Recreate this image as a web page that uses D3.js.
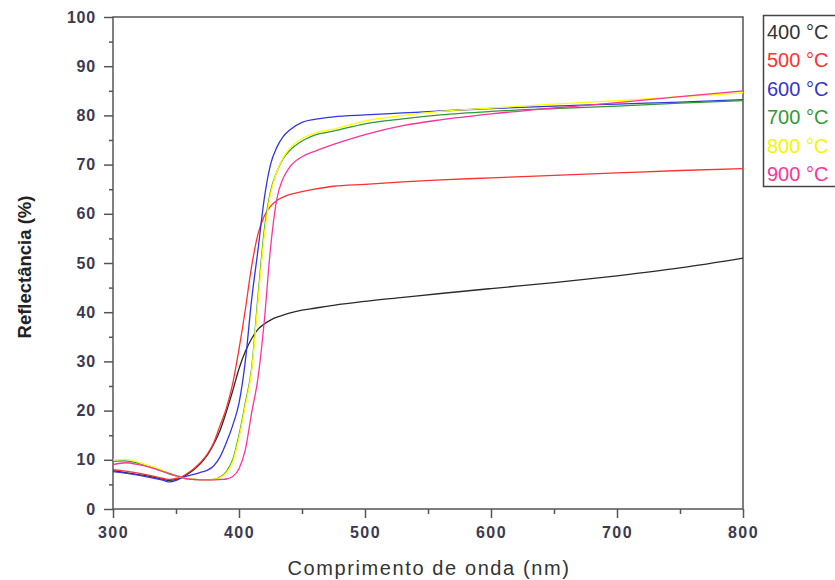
<!DOCTYPE html>
<html>
<head>
<meta charset="utf-8">
<script src="https://cdn.jsdelivr.net/npm/d3@7"></script>
<style>
  body { margin: 0; background: #fff; }
  svg { display: block; font-family: "Liberation Sans", Arial, sans-serif; }
</style>
</head>
<body>
<div id="chart"></div>
<script>
// wavelength (nm) shared by every series
const wavelengths = [300, 310, 320, 330, 340, 345, 350, 355, 360, 365, 370, 375, 380, 385, 390, 395, 400, 405, 410, 415, 420, 425, 430, 435, 440, 450, 460, 475, 500, 530, 560, 600, 650, 700, 750, 800];

// reflectance (%)
const r400 = [7.8, 7.4, 7.0, 6.6, 6.0, 5.8, 6.0, 6.4, 7.2, 8.2, 9.4, 11.0, 13.2, 16.0, 19.8, 24.0, 28.5, 32.0, 34.6, 36.5, 37.6, 38.4, 39.0, 39.4, 39.8, 40.4, 40.8, 41.4, 42.2, 43.0, 43.8, 44.8, 46.0, 47.4, 49.0, 51.0];
const r500 = [8.0, 7.7, 7.3, 6.8, 6.2, 6.0, 6.2, 6.6, 7.4, 8.4, 9.6, 11.2, 13.5, 17.0, 20.5, 25.5, 32.5, 40.5, 49.3, 55.8, 59.5, 61.5, 62.7, 63.4, 63.9, 64.5, 65.0, 65.6, 66.0, 66.5, 66.9, 67.3, 67.8, 68.3, 68.8, 69.2];
const r600 = [7.6, 7.3, 6.9, 6.4, 5.8, 5.5, 5.8, 6.4, 6.8, 7.1, 7.5, 7.9, 8.8, 10.6, 13.5, 17.0, 21.5, 30.0, 42.5, 52.5, 63.0, 70.0, 73.5, 75.7, 77.0, 78.6, 79.2, 79.7, 80.1, 80.5, 80.9, 81.4, 81.9, 82.3, 82.7, 83.2];
const r700 = [9.7, 9.8, 9.3, 8.6, 7.6, 7.1, 6.7, 6.3, 6.1, 6.0, 5.9, 5.9, 6.0, 6.5, 7.6, 10.0, 15.0, 21.5, 28.5, 43.0, 56.5, 64.5, 68.5, 71.2, 72.8, 74.8, 76.0, 76.8, 78.3, 79.3, 80.1, 80.8, 81.4, 81.9, 82.5, 83.0];
const r800 = [10.0, 10.1, 9.5, 8.7, 7.8, 7.3, 6.8, 6.4, 6.1, 6.0, 5.9, 5.9, 6.0, 6.4, 7.4, 9.6, 14.5, 21.0, 28.0, 42.0, 55.5, 64.0, 68.5, 71.4, 73.2, 75.3, 76.4, 77.2, 78.9, 80.0, 80.8, 81.5, 82.3, 83.0, 83.8, 84.6];
const r900 = [9.0, 9.4, 9.0, 8.4, 7.6, 7.2, 6.8, 6.4, 6.1, 6.0, 5.9, 5.9, 5.9, 6.0, 6.1, 6.6, 8.2, 12.0, 19.5, 26.5, 38.0, 53.0, 63.0, 67.2, 69.4, 71.6, 72.7, 74.1, 76.1, 77.9, 79.1, 80.3, 81.5, 82.6, 83.8, 85.0];

const seriesNames = ["400 °C", "500 °C", "600 °C", "700 °C", "800 °C", "900 °C"];
const seriesValues = [r400, r500, r600, r700, r800, r900];
const seriesColors = ["#2a2a2a", "#ff3030", "#3535e0", "#2f9a2f", "#ffff00", "#ff3399"];
const legendColors = ["#333333", "#ff3030", "#3535c8", "#339933", "#f5f500", "#ff3399"];

const xTicks = [300, 400, 500, 600, 700, 800];
const yTicks = [0, 10, 20, 30, 40, 50, 60, 70, 80, 90, 100];

const width = 835, height = 580;
const margin = { left: 113, right: 92, top: 17, bottom: 71 };

const svg = d3.select("#chart").append("svg")
    .attr("width", width)
    .attr("height", height);

const x = d3.scaleLinear().domain([300, 800]).range([margin.left, width - margin.right]);
const y = d3.scaleLinear().domain([0, 100]).range([height - margin.bottom, margin.top]);

const axisColor = "#555";
const labelColor = "#3a3a50";

// frame
svg.append("rect")
    .attr("x", x(300)).attr("y", y(100))
    .attr("width", x(800) - x(300)).attr("height", y(0) - y(100))
    .attr("fill", "none")
    .attr("stroke", axisColor)
    .attr("stroke-width", 1.5);

// y axis
const yAxis = svg.append("g")
    .attr("transform", `translate(${x(300)},0)`)
    .call(d3.axisLeft(y).tickValues(yTicks).tickSize(9).tickPadding(8));
yAxis.select(".domain").remove();
svg.append("g")
    .attr("transform", `translate(${x(300)},0)`)
    .call(d3.axisLeft(y).tickValues(d3.range(5, 100, 10)).tickSize(4).tickFormat(""))
    .select(".domain").remove();

// x axis
const xAxis = svg.append("g")
    .attr("transform", `translate(0,${y(0)})`)
    .call(d3.axisBottom(x).tickValues(xTicks).tickSize(9).tickPadding(9));
xAxis.select(".domain").remove();
svg.append("g")
    .attr("transform", `translate(0,${y(0)})`)
    .call(d3.axisBottom(x).tickValues(d3.range(350, 800, 100)).tickSize(5).tickFormat(""))
    .select(".domain").remove();

svg.selectAll(".tick line").attr("stroke", axisColor).attr("stroke-width", 1.5);
svg.selectAll(".tick text")
    .attr("fill", labelColor)
    .attr("font-size", 16)
    .attr("font-weight", "bold")
    .attr("letter-spacing", 0.8)
    .attr("font-family", "'Liberation Sans', Arial, sans-serif");
xAxis.selectAll(".tick text").attr("letter-spacing", 1.5);

// axis titles
svg.append("text")
    .attr("transform", `translate(31,${(y(0) + y(100)) / 2 + 4}) rotate(-90)`)
    .attr("text-anchor", "middle")
    .attr("font-size", 18.5)
    .attr("font-weight", "bold")
    .attr("fill", "#222")
    .text("Reflectância (%)");

svg.append("text")
    .attr("x", (x(300) + x(800)) / 2 + 1)
    .attr("y", 575)
    .attr("text-anchor", "middle")
    .attr("font-size", 20)
    .attr("letter-spacing", 1.6)
    .attr("fill", "#333")
    .text("Comprimento de onda (nm)");

// curves
const line = d3.line()
    .x(d => x(d[0]))
    .y(d => y(d[1]))
    .curve(d3.curveMonotoneX);

const plot = svg.append("g");
seriesValues.forEach((vals, i) => {
    const pts = wavelengths.map((w, j) => [w, vals[j]]);
    plot.append("path")
        .datum(pts)
        .attr("fill", "none")
        .attr("stroke", seriesColors[i])
        .attr("stroke-width", 1.3)
        .attr("d", line);
});

// legend
const legend = svg.append("g");
legend.append("rect")
    .attr("x", 763.5).attr("y", 15.5)
    .attr("width", 90).attr("height", 171)
    .attr("fill", "#fff")
    .attr("stroke", "#444")
    .attr("stroke-width", 1.5);
seriesNames.forEach((name, i) => {
    legend.append("text")
        .attr("x", 767)
        .attr("y", 39 + i * 28.4)
        .attr("font-size", 20)
        .attr("fill", legendColors[i])
        .text(name);
});
</script>
</body>
</html>
